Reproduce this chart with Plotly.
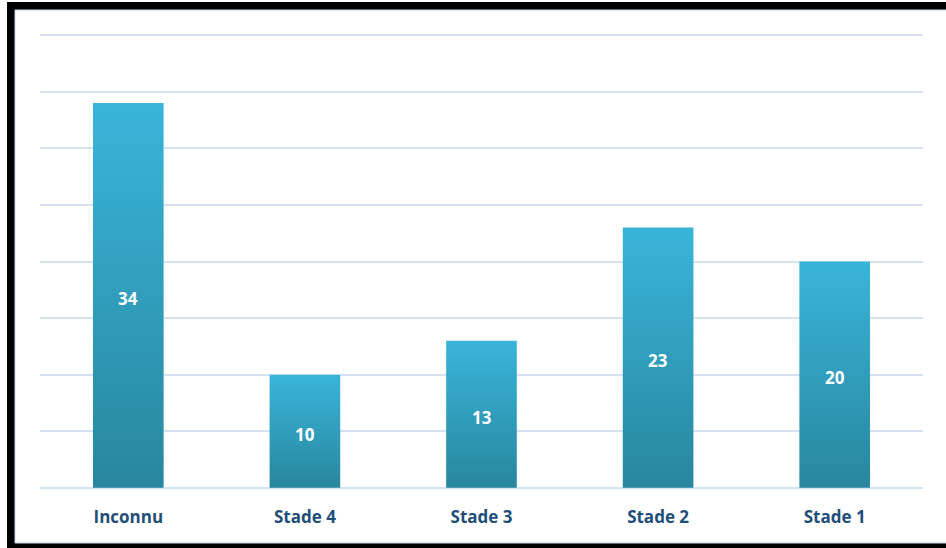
import plotly.graph_objects as go

# Stage distribution
categories = ["Inconnu", "Stade 4", "Stade 3", "Stade 2", "Stade 1"]
values = [34, 10, 13, 23, 20]
y_ticks = [0, 5, 10, 15, 20, 25, 30, 35, 40]

BAR_TOP = "#39b5da"
BAR_BOTTOM = "#28869e"
GRID = "#d5e3f1"
LABEL = "#1f4e79"
FONT = "Open Sans"

W, H = 946, 548
L, R, T, B = 40, 23, 34, 59
pw, ph = W - L - R, H - T - B
bar_w = 0.4

fig = go.Figure()

for i, (cat, v) in enumerate(zip(categories, values)):
    x0, x1 = i - bar_w / 2, i + bar_w / 2
    fig.add_trace(go.Scatter(
        x=[x0, x1, x1, x0, x0],
        y=[0, 0, v, v, 0],
        mode="lines",
        line=dict(width=0),
        fill="toself",
        fillgradient=dict(
            type="vertical",
            start=0,
            stop=v,
            colorscale=[[0, BAR_BOTTOM], [1, BAR_TOP]],
        ),
        hoverinfo="skip",
        showlegend=False,
    ))

# value labels centred in each bar
for i, v in enumerate(values):
    fig.add_annotation(
        x=i, y=v / 2, text=str(v), showarrow=False, yshift=-3,
        font=dict(family=FONT, size=17, color="white", weight="bold"),
    )

def px_x(p):
    return (p - L) / pw

def px_y(p):
    return (H - B - p) / ph

# framed background: black border with white inner panel
fig.add_shape(type="rect", xref="paper", yref="paper", layer="below",
              x0=px_x(7), x1=px_x(W + 20), y0=px_y(H + 20), y1=px_y(2),
              fillcolor="black", line=dict(width=0))
fig.add_shape(type="rect", xref="paper", yref="paper", layer="below",
              x0=px_x(15), x1=px_x(W + 20), y0=px_y(543), y1=px_y(10),
              fillcolor="white", line=dict(color="#c9d6e6", width=1))

fig.update_layout(
    width=W, height=H,
    margin=dict(l=L, r=R, t=T, b=B),
    paper_bgcolor="white",
    plot_bgcolor="rgba(0,0,0,0)",
    font=dict(family=FONT),
    xaxis=dict(
        range=[-0.5, len(categories) - 0.5],
        tickvals=list(range(len(categories))),
        ticktext=categories,
        showgrid=False,
        zeroline=False,
        showline=False,
        ticks="outside",
        ticklen=13,
        tickcolor="rgba(0,0,0,0)",
        tickfont=dict(family=FONT, size=17, color=LABEL, weight="bold"),
        fixedrange=True,
    ),
    yaxis=dict(
        range=[-0.1, 40.1],
        tickvals=y_ticks,
        showticklabels=False,
        showgrid=True,
        gridcolor=GRID,
        gridwidth=2,
        zeroline=False,
        showline=False,
        fixedrange=True,
    ),
)

fig.write_html("out.html")
